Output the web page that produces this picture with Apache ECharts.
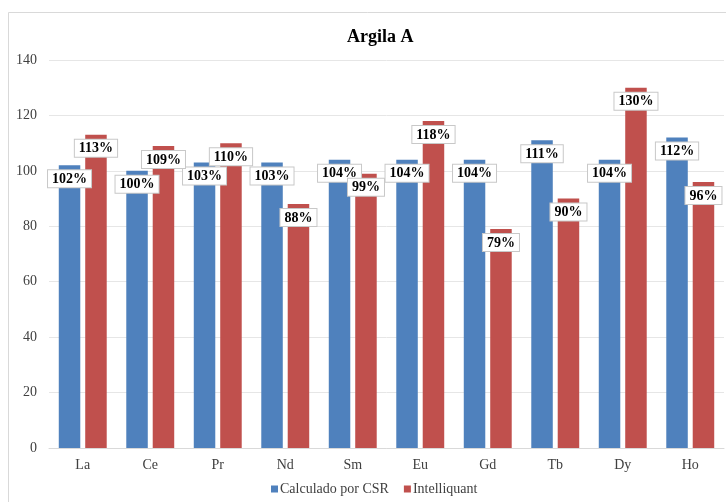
<!DOCTYPE html>
<html><head><meta charset="utf-8">
<script src="https://cdn.jsdelivr.net/npm/echarts@6/dist/echarts.min.js"></script>
<style>html,body{margin:0;padding:0;background:#fff}#c{width:726px;height:502px}</style>
</head><body><div id="c"></div>
<script>
const categories = ['La','Ce','Pr','Nd','Sm','Eu','Gd','Tb','Dy','Ho'];
const calculadoCSR = [102,100,103,103,104,104,104,111,104,112];
const intelliquant = [113,109,110,88,99,118,79,90,130,96];
const yTicks = {min:0, max:140, interval:20};

const chart = echarts.init(document.getElementById('c'), null, {renderer:'canvas'});
const serif = '"Liberation Serif","Times New Roman",serif';
const lbl = {
  show:true, position:'insideTop', distance:5,
  formatter:'{c}%', color:'#000', fontFamily:serif, fontWeight:'bold', fontSize:14,
  backgroundColor:'#fff', borderColor:'#c8c8c8', borderWidth:1, padding:[2,4,1,4]
};
chart.setOption({
  animation:false,
  backgroundColor:'#fff',
  graphic:[{type:'rect', shape:{x:8.5,y:12.5,width:730,height:500}, style:{fill:'none',stroke:'#d9d9d9',lineWidth:1}, silent:true}],
  title:{text:'Argila A', left:347, top:28, padding:0,
    textStyle:{fontFamily:serif, fontWeight:'bold', fontSize:18, color:'#000'}},
  legend:{left:271, top:482, itemWidth:7, itemHeight:7, itemGap:15, icon:'rect', padding:0,
    textStyle:{fontFamily:serif, fontSize:14, color:'#404040', padding:[0,0,0,-3]},
    data:['Calculado por CSR','Intelliquant']},
  grid:{left:49, right:2, top:60, bottom:54, containLabel:false},
  xAxis:{type:'category', data:categories,
    axisLine:{lineStyle:{color:'#d9d9d9'}}, axisTick:{show:false},
    axisLabel:{color:'#404040', fontFamily:serif, fontSize:14, margin:10}},
  yAxis:{type:'value', min:yTicks.min, max:yTicks.max, interval:yTicks.interval,
    axisLine:{show:false}, axisTick:{show:false},
    splitLine:{lineStyle:{color:'#e6e6e6'}},
    axisLabel:{color:'#404040', fontFamily:serif, fontSize:14, margin:12}},
  series:[
    {name:'Calculado por CSR', type:'bar', data:calculadoCSR, barWidth:21.5, barGap:'23%',
      itemStyle:{color:'#4f81bd'}, label:lbl},
    {name:'Intelliquant', type:'bar', data:intelliquant, barWidth:21.5, barGap:'23%',
      itemStyle:{color:'#c0504d'}, label:lbl}
  ]
});
</script></body></html>
